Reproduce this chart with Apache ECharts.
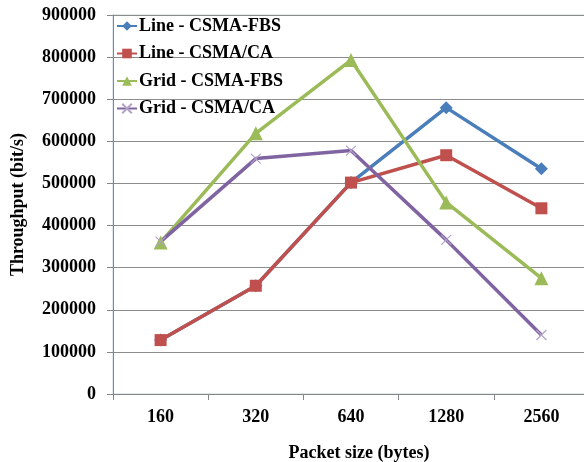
<!DOCTYPE html>
<html><head><meta charset="utf-8">
<script src="https://cdn.jsdelivr.net/npm/echarts@6/dist/echarts.min.js"></script>
<style>html,body{margin:0;padding:0;background:#fff}#c{width:584px;height:462px}</style>
</head><body><div id="c"></div>
<script>
const categories = ['160', '320', '640', '1280', '2560'];
const lineFBS = [128000, 257000, 502000, 680000, 535000];
const lineCA = [128000, 257000, 502000, 567000, 441000];
const gridFBS = [360000, 619000, 793000, 455000, 275000];
const gridCA = [362000, 559000, 578000, 366000, 140000];
const seriesNames = ['Line - CSMA-FBS', 'Line - CSMA/CA', 'Grid - CSMA-FBS', 'Grid - CSMA/CA'];

const font = 'Liberation Serif';
const chart = echarts.init(document.getElementById('c'), null, {renderer: 'canvas'});
function mk(name, data, color, symbol, size, item) {
  return {
    name, type: 'line', data, symbol, symbolSize: size,
    lineStyle: {color, width: 3.5},
    itemStyle: item || {color},
    emphasis: {disabled: true}
  };
}
chart.setOption({
  animation: false,
  backgroundColor: '#fff',
  grid: {left: 113, top: 15, bottom: 68, right: -5, containLabel: false, outerBoundsMode: 'none',
         show: true, borderColor: '#c6d3e2', borderWidth: 1},
  legend: {
    orient: 'vertical', left: 116, top: 17, itemGap: 9.5, padding: 0,
    itemWidth: 20, itemHeight: 12,
    textStyle: {fontFamily: font, fontWeight: 'bold', fontSize: 18, color: '#000', padding: [0, 0, 0, -3]},
    data: seriesNames
  },
  xAxis: {
    type: 'category', data: categories, boundaryGap: true,
    name: 'Packet size (bytes)', nameLocation: 'middle', nameGap: 50,
    nameTextStyle: {fontFamily: font, fontWeight: 'bold', fontSize: 18, color: '#000', padding: [0, 0, 0, 16]},
    axisLine: {lineStyle: {color: '#868686', width: 1}},
    axisTick: {show: true, length: 6, lineStyle: {color: '#868686'}},
    axisLabel: {margin: 14, fontFamily: font, fontWeight: 'bold', fontSize: 18, color: '#000'}
  },
  yAxis: {
    type: 'value', min: 0, max: 900000, interval: 100000,
    name: 'Throughput (bit/s)', nameLocation: 'middle', nameGap: 86,
    nameTextStyle: {fontFamily: font, fontWeight: 'bold', fontSize: 18, color: '#000'},
    axisLine: {show: true, lineStyle: {color: '#868686', width: 1}},
    axisTick: {show: true, length: 6, lineStyle: {color: '#868686'}},
    splitLine: {lineStyle: {color: '#8c8c8c', width: 1}},
    axisLabel: {margin: 17, formatter: v => String(v), fontFamily: font, fontWeight: 'bold', fontSize: 18, color: '#000'}
  },
  series: [
    mk(seriesNames[0], lineFBS, '#4a7ebb', 'diamond', 13),
    mk(seriesNames[1], lineCA, '#c0504d', 'rect', 12),
    mk(seriesNames[2], gridFBS, '#9bbb59', 'triangle', 14),
    mk(seriesNames[3], gridCA, '#8064a2', 'path://M0,0L10,10M10,0L0,10', 10,
       {color: 'rgba(0,0,0,0)', borderColor: '#b3a2c7', borderWidth: 1.2})
  ]
});
</script></body></html>
